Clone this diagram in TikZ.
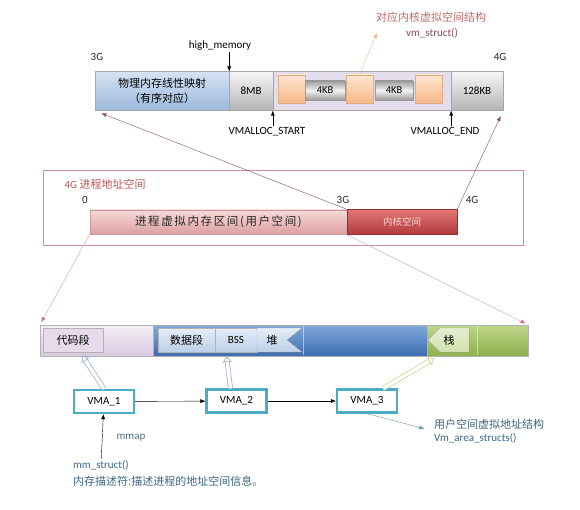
\documentclass[tikz,border=0pt]{standalone}
\usepackage{fontspec}
\setmainfont{Carlito}
\newfontfamily\zh{Noto Sans CJK SC}
\newfontfamily\zhwide[LetterSpace=14]{Noto Sans CJK SC}
\usetikzlibrary{arrows.meta,calc}

\definecolor{tbA}{HTML}{D6E3F3}
\definecolor{tbB}{HTML}{9CB8DD}
\definecolor{gsA}{HTML}{F6F6F6}
\definecolor{gsB}{HTML}{B4B4B4}
\definecolor{lav}{HTML}{E4DEEC}
\definecolor{orA}{HTML}{FDE6D2}
\definecolor{orB}{HTML}{F6B888}
\definecolor{boxred}{HTML}{C8909A}
\definecolor{titlered}{HTML}{C0505A}
\definecolor{pkA}{HTML}{F7D9D9}
\definecolor{pkB}{HTML}{DDA0A2}
\definecolor{krA}{HTML}{E27774}
\definecolor{krB}{HTML}{B13A3C}
\definecolor{lvA}{HTML}{F6F0F7}
\definecolor{lvB}{HTML}{D9C8DF}
\definecolor{lvC}{HTML}{E6DAEB}
\definecolor{blA}{HTML}{82A9DC}
\definecolor{blB}{HTML}{3C6CB2}
\definecolor{ibA}{HTML}{E6EDF7}
\definecolor{ibB}{HTML}{BCD0E8}
\definecolor{grA}{HTML}{BFD68A}
\definecolor{grB}{HTML}{8DB04D}
\definecolor{grC}{HTML}{E4EDD2}
\definecolor{vmateal}{HTML}{4BACC6}
\definecolor{redline}{HTML}{8A4A58}
\definecolor{pinkline}{HTML}{C8A0A8}
\definecolor{pinktip}{HTML}{D06A80}
\definecolor{hblue}{HTML}{A3B6CA}
\definecolor{hgreen}{HTML}{CBD69A}
\definecolor{txtblue}{HTML}{3A6585}
\definecolor{kvsred}{HTML}{C46A6A}

\tikzset{
  seg/.style={draw=gray!70, minimum height=39pt, inner sep=0pt, align=center,
    font=\fontsize{11}{15}\selectfont},
  gseg/.style={top color=gsA, bottom color=gsB},
  oblock/.style={draw=orB!80!gray, top color=orA, bottom color=orB,
    minimum width=27pt, minimum height=28pt, inner sep=0pt},
  kblock/.style={draw=gray!80, top color=gray!75, bottom color=gray!80, middle color=gray!10,
    minimum height=19pt, inner sep=0pt, font=\fontsize{10.5}{12}\selectfont},
  lbl/.style={inner sep=1pt, font=\fontsize{11}{13}\selectfont},
  bseg/.style={draw=gray!60, minimum height=31pt, inner sep=0pt},
  ibox/.style={draw=gray!60, minimum height=24pt, inner sep=0pt,
    font=\fontsize{11}{13}\selectfont},
  vma/.style={draw=vmateal, line width=2.2pt, fill=white, minimum width=60pt,
    minimum height=23pt, inner sep=0pt, font=\fontsize{11}{13}\selectfont},
  hollow/.style={double=white, double distance=3.4pt, line width=0.8pt,
    -{Triangle[open, length=6pt, width=9pt]}},
  tip/.style={-{Latex[length=5pt,width=4pt]}}
}

\begin{document}
\begin{tikzpicture}[x=1pt,y=-1pt]
\useasboundingbox (0,0) rectangle (580,510);

\node[seg, top color=tbA, bottom color=tbB, minimum width=134pt] (linmap) at (162,91)
  {{\zh 物理内存线性映射}\\{\zh （有序对应）}};
\node[seg, gseg, minimum width=44pt] (mbeight) at (251,91) {8MB};
\node[seg, fill=lav, minimum width=178pt] (vmarea) at (362,91) {};
\node[seg, gseg, minimum width=52pt] (kbtail) at (477,91) {128KB};

\foreach \n/\x in {o1/291.5, o2/359.5, o3/429}
  \node[oblock] (\n) at (\x,89) {};
\foreach \n/\x/\w in {k1/325/40, k2/394/38}
  \node[kblock, minimum width=\w pt] (\n) at (\x,90.5) {4KB};

\node[lbl, text=gray!30!black] (gthree) at (97,57) {3G};
\node[lbl, text=gray!30!black] (gfour) at (500,57) {4G};
\node[lbl] (himem) at (220,46) {high\_memory};
\node[lbl] (vstart) at (267,132) {VMALLOC\_START};
\node[lbl] (vend) at (445,132) {VMALLOC\_END};
\draw[tip] (himem.south -| linmap.north east) -- (linmap.north east);
\draw[tip] (vstart.north -| vmarea.south west) -- (vmarea.south west);
\draw[tip] (vend.north -| vmarea.south east) -- (vmarea.south east);

\node[lbl, text=kvsred] (kvsa) at (431,17) {\zh 对应内核虚拟空间结构};
\node[lbl, text=redline] (kvsb) at (432,33) {vm\_struct()};
\draw[tip, draw=orB] (o2.north) -- ([xshift=-28pt]kvsb.west);

\node[draw=boxred, line width=0.9pt, minimum width=480pt, minimum height=75pt] (procbox) at (283,207.5) {};
\node[lbl, text=titlered] (ptitle) at (105,184) {4G {\zh 进程地址空间}};
\node[lbl, text=gray!30!black] (zmid) at (85,200) {0};
\node[lbl, text=gray!30!black] (gthreemid) at (343,200) {3G};
\node[lbl, text=gray!30!black] (gfourmid) at (472,200) {4G};
\node[draw=pkB!80!gray, top color=pkA, bottom color=pkB, minimum width=257pt, minimum height=24pt,
  inner sep=0pt, text=gray!30!black, font=\fontsize{11.5}{13}\selectfont] (user) at (218.5,222)
  {\zhwide 进程虚拟内存区间(用户空间)};
\node[draw=krB!80!black, top color=krA, bottom color=krB, minimum width=110pt, minimum height=25pt,
  inner sep=0pt, text=white!85!red, font=\fontsize{9.5}{11}\selectfont] (kernel) at (402,222)
  {\zh 内核空间};

\node[bseg, top color=lvA, bottom color=lvB, minimum width=113pt] (lavseg) at (96.5,340.5) {};
\node[bseg, top color=blA, bottom color=blB, minimum width=274pt] (blueseg) at (290,340.5) {};
\node[bseg, top color=grA, bottom color=grB, minimum width=101pt] (greenseg) at (477.5,340.5) {};
\draw[white, opacity=0.5] (303,326) -- (303,355) (477,326) -- (477,355);
\node[ibox, fill=lvC] [minimum width=60pt] (codebox) at (73,340) {\zh 代码段};
\node[ibox, top color=ibA, bottom color=ibB, minimum width=57pt] (databox) at (186.5,340) {\zh 数据段};
\node[ibox, top color=ibA, bottom color=ibB, minimum width=42pt] (bss) at (236,340) {BSS};
\fill[top color=ibA, bottom color=ibB, draw=gray!60] (257,328) -- (302,328) -- (287,340) -- (302,352) -- (257,352) -- cycle;
\node[lbl] (heap) at (272,340) {\zh 堆};
\fill[top color=grC, bottom color=grA!70!white, draw=gray!50] (440,328) -- (469,328) -- (469,352) -- (440,352) -- (428,340) -- cycle;
\node[lbl] (stack) at (449,340) {\zh 栈};

\node[vma] (vma1) at (104,401.5) {VMA\_1};
\node[vma] (vma2) at (236.5,401) {VMA\_2};
\node[vma] (vma3) at (367,401) {VMA\_3};
\foreach \from/\to in {vma1/vma2, vma2/vma3}
  \draw[tip] (\from) -- (\to);

\draw[hollow, draw=hblue, shorten >=4pt] (vma1.north) -- ([xshift=7pt]codebox.south);
\draw[hollow, draw=hblue, shorten >=4pt] ([xshift=-6pt]vma2.north) -- ([xshift=-10pt]bss.south);
\draw[hollow, draw=hgreen, shorten >=4pt] ([xshift=16pt]vma3.north) -- ([xshift=11pt]greenseg.south west);

\node[lbl, text=txtblue, anchor=west] (mms) at (72,465) {mm\_struct()};
\node[lbl, text=txtblue, anchor=west] (mmdesc) at (72,481) {\zh 内存描述符:描述进程的地址空间信息。};
\node[lbl, text=txtblue!70!gray] (mmap) at (131,438) {mmap};
\draw[tip] (mms) -- (vma1);

\node[lbl, text=txtblue, anchor=west, align=left] (uvm) at (433,431)
  {{\zh 用户空间虚拟地址结构}\\Vm\_area\_structs()};
\draw[tip, draw=vmateal!60!gray, shorten >=9pt] (vma3.south) -- (uvm.west);

\draw[tip, draw=redline, shorten >=7pt] (kernel.north west) -- (linmap.south west);
\draw[tip, draw=redline, shorten >=6pt] (kernel.north east) -- (kbtail.south east);
\draw[-{Latex[length=5pt,width=4pt,color=pinktip]}, draw=pinkline, shorten >=3pt] (user.south west) -- (lavseg.north west);
\draw[-{Latex[length=5pt,width=4pt,color=pinktip]}, draw=pinkline, shorten >=3pt] (kernel.south west) -- (greenseg.north east);

\end{tikzpicture}
\end{document}
